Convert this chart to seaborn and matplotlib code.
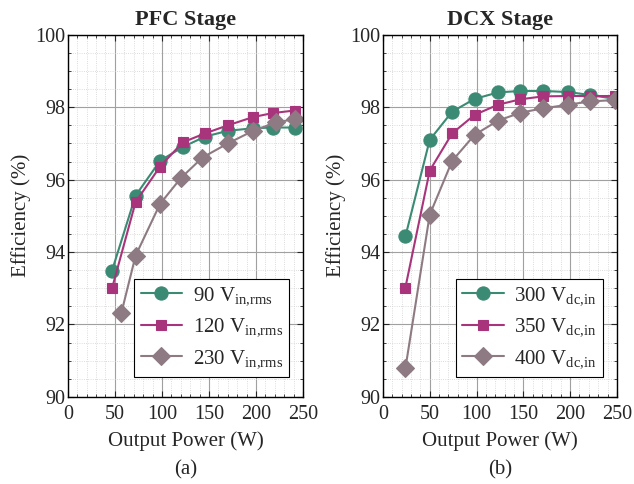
import pandas as pd
import matplotlib
matplotlib.use('Agg')
import matplotlib.pyplot as plt
import seaborn as sns
from matplotlib.ticker import MultipleLocator

# PFC stage data
pfc_power = [47, 72, 98, 122, 146, 170, 197, 218, 241]
pfc_90 = [93.49, 95.56, 96.52, 96.90, 97.19, 97.35, 97.42, 97.44, 97.44]
pfc_120 = [93.00, 95.38, 96.36, 97.03, 97.28, 97.50, 97.73, 97.84, 97.91]
pfc_230_power = [57, 72, 98, 120, 143, 170, 197, 221, 241]
pfc_230 = [92.33, 93.90, 95.33, 96.04, 96.61, 97.00, 97.35, 97.58, 97.67]
pfc_labels = ['90 V$_\\mathregular{in{,}rms}$', '120 V$_\\mathregular{in{,}rms}$', '230 V$_\\mathregular{in{,}rms}$']

# DCX stage data
dcx_power = [24, 50, 74, 98, 123, 147, 171, 198, 221, 248]
dcx_300 = [94.43, 97.10, 97.88, 98.23, 98.41, 98.45, 98.45, 98.42, 98.34, 98.23]
dcx_350 = [93.02, 96.25, 97.28, 97.79, 98.07, 98.22, 98.30, 98.31, 98.31, 98.31]
dcx_400 = [90.79, 95.03, 96.52, 97.24, 97.63, 97.85, 97.97, 98.07, 98.16, 98.20]
dcx_labels = ['300 V$_\\mathregular{dc{,}in}$', '350 V$_\\mathregular{dc{,}in}$', '400 V$_\\mathregular{dc{,}in}$']

colors = ['#3b8a73', '#a8357b', '#8e7a82']
marker_list = ['o', 's', 'D']

pfc = pd.concat([
    pd.DataFrame({'P': pfc_power, 'eff': pfc_90, 'series': pfc_labels[0]}),
    pd.DataFrame({'P': pfc_power, 'eff': pfc_120, 'series': pfc_labels[1]}),
    pd.DataFrame({'P': pfc_230_power, 'eff': pfc_230, 'series': pfc_labels[2]}),
])
dcx = pd.concat([
    pd.DataFrame({'P': dcx_power, 'eff': dcx_300, 'series': dcx_labels[0]}),
    pd.DataFrame({'P': dcx_power, 'eff': dcx_350, 'series': dcx_labels[1]}),
    pd.DataFrame({'P': dcx_power, 'eff': dcx_400, 'series': dcx_labels[2]}),
])

sns.set_style('ticks')
plt.rcParams['font.family'] = ['Liberation Serif', 'DejaVu Serif']
plt.rcParams['mathtext.fontset'] = 'custom'
plt.rcParams['mathtext.rm'] = 'Liberation Serif'

fig = plt.figure(figsize=(6.34, 4.84), dpi=100)
ax1 = fig.add_axes([0.107, 0.180, 0.371, 0.748])
ax2 = fig.add_axes([0.604, 0.180, 0.369, 0.748])


def fix_markers(lines):
    for line in lines:
        line.set_markeredgecolor(line.get_color())
        if line.get_marker() == 's':
            line.set_markersize(7.5)


for ax, df, labels, title, tag in [(ax1, pfc, pfc_labels, 'PFC Stage', '(a)'),
                                   (ax2, dcx, dcx_labels, 'DCX Stage', '(b)')]:
    sns.lineplot(data=df, x='P', y='eff', hue='series', style='series',
                 hue_order=labels, style_order=labels,
                 palette=dict(zip(labels, colors)),
                 markers=dict(zip(labels, marker_list)), dashes=False,
                 markersize=9.5, markeredgewidth=0.8, linewidth=1.5,
                 sort=False, ax=ax)
    fix_markers(ax.get_lines())
    ax.set_xlim(0, 250)
    ax.set_ylim(90, 100)
    ax.xaxis.set_major_locator(MultipleLocator(50))
    ax.xaxis.set_minor_locator(MultipleLocator(10))
    ax.yaxis.set_major_locator(MultipleLocator(2))
    ax.yaxis.set_minor_locator(MultipleLocator(0.5))
    ax.grid(which='major', color='#a0a0a0', linewidth=0.8)
    ax.grid(which='minor', color='#d0d0d0', linewidth=0.6, linestyle=':')
    ax.set_axisbelow(True)
    ax.tick_params(which='both', direction='in', top=True, right=True,
                   labelsize=14.5)
    ax.tick_params(axis='x', pad=6)
    ax.tick_params(axis='y', pad=2)
    ax.tick_params(which='major', length=4, width=0.8)
    ax.tick_params(which='minor', length=2, width=0.6)
    for s in ax.spines.values():
        s.set_linewidth(1.0)
        s.set_color('black')
    ax.set_title(title, fontsize=16, fontweight='bold', pad=7)
    ax.set_xlabel('Output Power (W)\n' + tag, fontsize=15,
                  linespacing=1.65, labelpad=5)
    ax.set_ylabel('Efficiency (%)', fontsize=15, labelpad=3)
    leg = ax.legend(loc='lower right', fontsize=15, frameon=True, fancybox=False,
                    edgecolor='black', framealpha=1, handlelength=2.0,
                    handletextpad=0.5, borderpad=0.3, labelspacing=0.45,
                    bbox_to_anchor=(0.985, 0.025))
    leg.get_frame().set_linewidth(0.8)
    fix_markers(leg.get_lines())

fig.savefig('out.png', dpi=100)
